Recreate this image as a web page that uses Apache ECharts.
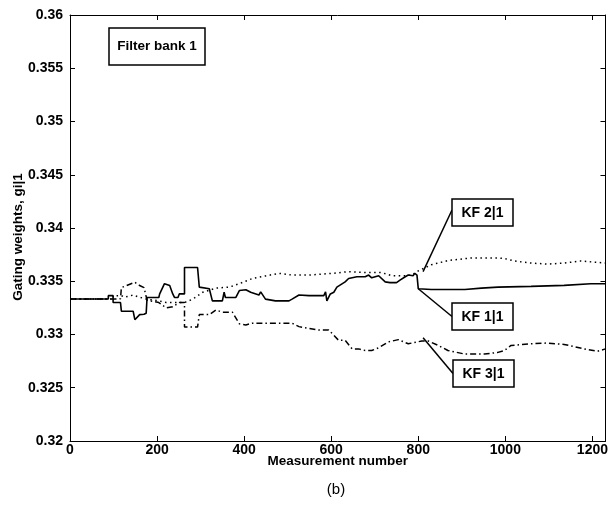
<!DOCTYPE html>
<html>
<head>
<meta charset="utf-8">
<script src="https://cdn.jsdelivr.net/npm/echarts@6/dist/echarts.min.js"></script>
<style>
  html, body { margin: 0; padding: 0; background: #fff; }
  #chart { width: 611px; height: 508px; }
</style>
</head>
<body>
<div id="chart"></div>
<script>
// Gating weights of the three Kalman filters in filter bank 1
const kf11 = [
  [0, 0.33333], [88, 0.33333], [88, 0.33365], [99, 0.33365], [99, 0.33300], [116, 0.33300],
  [118, 0.33219], [145, 0.33219], [149, 0.33139], [160, 0.33187], [170, 0.33190], [175, 0.33200],
  [177, 0.33348], [204, 0.33348], [206, 0.33381], [217, 0.33477], [229, 0.33461], [236, 0.33381],
  [240, 0.33348], [248, 0.33348], [251, 0.33381], [263, 0.33381], [263, 0.33629], [293, 0.33629],
  [297, 0.33445], [320, 0.33429], [327, 0.33316], [350, 0.33316], [354, 0.33397], [357, 0.33348],
  [381, 0.33348], [389, 0.33413], [404, 0.33420], [415, 0.33397], [434, 0.33371], [438, 0.33400],
  [449, 0.33332], [472, 0.33316], [503, 0.33316], [510, 0.33332], [526, 0.33371], [549, 0.33365],
  [583, 0.33365], [587, 0.33400], [590, 0.33316], [594, 0.33316], [598, 0.33381], [606, 0.33397],
  [613, 0.33445], [632, 0.33494], [640, 0.33526], [659, 0.33542], [678, 0.33542], [686, 0.33558],
  [693, 0.33532], [709, 0.33552], [724, 0.33494], [735, 0.33487], [750, 0.33487], [758, 0.33510],
  [770, 0.33542], [777, 0.33558], [788, 0.33552], [792, 0.33574], [797, 0.33558], [800, 0.33558],
  [800, 0.33429], [830, 0.33423], [907, 0.33423], [945, 0.33435], [983, 0.33445], [1059, 0.33452],
  [1135, 0.33461], [1196, 0.33477], [1230, 0.33477]
];
const kf21 = [
  [0, 0.33333], [99, 0.33333], [99, 0.33365], [118, 0.33365], [125, 0.33350], [145, 0.33370],
  [160, 0.33350], [177, 0.33330], [200, 0.33320], [221, 0.33300], [251, 0.33300], [263, 0.33300],
  [282, 0.33332], [305, 0.33397], [335, 0.33435], [366, 0.33445], [389, 0.33477], [419, 0.33526],
  [449, 0.33550], [480, 0.33574], [511, 0.33558], [549, 0.33558], [602, 0.33574], [640, 0.33590],
  [678, 0.33581], [716, 0.33581], [739, 0.33552], [770, 0.33552], [785, 0.33558], [800, 0.33597],
  [830, 0.33655], [868, 0.33694], [922, 0.33719], [983, 0.33719], [998, 0.33713], [1021, 0.33690],
  [1059, 0.33671], [1097, 0.33661], [1135, 0.33671], [1173, 0.33690], [1230, 0.33671]
];
const kf31 = [
  [0, 0.33333], [99, 0.33333], [116, 0.33335], [118, 0.33440], [130, 0.33460], [149, 0.33490],
  [160, 0.33460], [170, 0.33440], [177, 0.33322], [204, 0.33300], [206, 0.33290], [221, 0.33250],
  [236, 0.33260], [251, 0.33300], [263, 0.33300], [263, 0.33070], [293, 0.33070], [297, 0.33187],
  [320, 0.33187], [335, 0.33230], [350, 0.33210], [373, 0.33210], [389, 0.33100], [404, 0.33090],
  [419, 0.33106], [510, 0.33106], [526, 0.33074], [549, 0.33058], [571, 0.33042], [594, 0.33042],
  [602, 0.33010], [617, 0.32945], [632, 0.32945], [648, 0.32865], [663, 0.32865], [678, 0.32850],
  [693, 0.32850], [709, 0.32875], [731, 0.32930], [754, 0.32952], [777, 0.32913], [808, 0.32939],
  [823, 0.32939], [846, 0.32897], [868, 0.32850], [907, 0.32816], [952, 0.32816], [983, 0.32832],
  [998, 0.32850], [1013, 0.32897], [1059, 0.32913], [1097, 0.32920], [1135, 0.32907], [1181, 0.32865],
  [1211, 0.32842], [1230, 0.32865]
];

const xTicks = [0, 200, 400, 600, 800, 1000, 1200];
const yTicks = [0.32, 0.325, 0.33, 0.335, 0.34, 0.345, 0.35, 0.355, 0.36];

// Callout labels: the data point each leader line starts from
const callouts = [
  { text: 'KF 2|1', point: [811, 0.3359] },
  { text: 'KF 1|1', point: [800, 0.3343] },
  { text: 'KF 3|1', point: [811, 0.3297] }
];

const FONT = '"Liberation Sans", Arial, Helvetica, sans-serif';
const chart = echarts.init(document.getElementById('chart'), null, { renderer: 'canvas' });

const frameAxis = {
  axisLine: { show: true, onZero: false, lineStyle: { color: '#000', width: 1 } },
  axisTick: { show: true, inside: true, length: 5, lineStyle: { color: '#000', width: 1 } },
  splitLine: { show: false }
};

chart.setOption({
  animation: false,
  backgroundColor: '#fff',
  grid: { left: 70, right: 3, top: 15, bottom: 67 },
  xAxis: [
    Object.assign({
      type: 'value', min: 0, max: 1230, interval: 200, position: 'bottom',
      name: 'Measurement number', nameLocation: 'middle', nameGap: 13, nameMoveOverlap: false,
      nameTextStyle: { color: '#000', fontSize: 13.5, fontFamily: FONT, fontWeight: 'bold' },
      axisLabel: {
        color: '#000', fontSize: 14, fontFamily: FONT, fontWeight: 'bold', margin: 2,
        showMaxLabel: false,
        formatter: v => (xTicks.indexOf(v) >= 0 ? String(v) : '')
      }
    }, frameAxis),
    Object.assign({
      type: 'value', min: 0, max: 1230, interval: 200, position: 'top',
      axisLabel: { show: false }
    }, frameAxis)
  ],
  yAxis: [
    Object.assign({
      type: 'value', min: 0.32, max: 0.36, interval: 0.005, position: 'left',
      axisLabel: {
        color: '#000', fontSize: 14, fontFamily: FONT, fontWeight: 'bold', margin: 7,
        formatter: v => {
          const t = yTicks.find(k => Math.abs(k - v) < 1e-9);
          return t === undefined ? '' : String(+t.toFixed(3));
        }
      }
    }, frameAxis),
    Object.assign({
      type: 'value', min: 0.32, max: 0.36, interval: 0.005, position: 'right',
      axisLabel: { show: false }
    }, frameAxis)
  ],
  series: [
    {
      name: 'KF 1|1', type: 'line', data: kf11, showSymbol: false, symbol: 'none',
      lineStyle: { color: '#000', width: 1.6, type: 'solid' }
    },
    {
      name: 'KF 2|1', type: 'line', data: kf21, showSymbol: false, symbol: 'none',
      lineStyle: { color: '#000', width: 1.5, type: [1.5, 3.5] }
    },
    {
      name: 'KF 3|1', type: 'line', data: kf31, showSymbol: false, symbol: 'none',
      lineStyle: { color: '#000', width: 1.5, type: [6, 3, 1.5, 3] }
    }
  ]
});

// Boxed labels and their leader lines
const boxes = [
  { left: 452, top: 199 },
  { left: 452, top: 303 },
  { left: 453, top: 360 }
];
const BW = 61, BH = 27;
const elements = [];

elements.push({
  type: 'rect', shape: { x: 109, y: 28, width: 96, height: 37 },
  style: { fill: '#fff', stroke: '#000', lineWidth: 1.5 }, z: 10
});
elements.push({
  type: 'text', x: 157, y: 46.5,
  style: { text: 'Filter bank 1', fill: '#000', font: 'bold 13.5px ' + FONT, align: 'center', verticalAlign: 'middle' },
  z: 11
});

callouts.forEach((c, i) => {
  const p = chart.convertToPixel({ xAxisIndex: 0, yAxisIndex: 0 }, c.point);
  const b = boxes[i];
  const ey = i === 0 ? b.top + 11 : b.top + BH / 2;
  elements.push({
    type: 'line', shape: { x1: p[0], y1: p[1], x2: b.left, y2: ey },
    style: { stroke: '#000', lineWidth: 1.5 }, z: 9
  });
  elements.push({
    type: 'rect', shape: { x: b.left, y: b.top, width: BW, height: BH },
    style: { fill: '#fff', stroke: '#000', lineWidth: 1.5 }, z: 10
  });
  elements.push({
    type: 'text', x: b.left + BW / 2, y: b.top + BH / 2 + 0.5,
    style: { text: c.text, fill: '#000', font: 'bold 14px ' + FONT, align: 'center', verticalAlign: 'middle' },
    z: 11
  });
});

// Y-axis title and panel caption
elements.push({
  type: 'text', x: 18, y: 237, rotation: Math.PI / 2,
  style: { text: 'Gating weights, gi|1', fill: '#000', font: 'bold 13.5px ' + FONT, align: 'center', verticalAlign: 'middle' },
  z: 11
});
elements.push({
  type: 'text', x: 336, y: 490,
  style: { text: '(b)', fill: '#000', font: '15px ' + FONT, align: 'center', verticalAlign: 'middle' },
  z: 11
});

chart.setOption({ graphic: { elements: elements } });
</script>
</body>
</html>
